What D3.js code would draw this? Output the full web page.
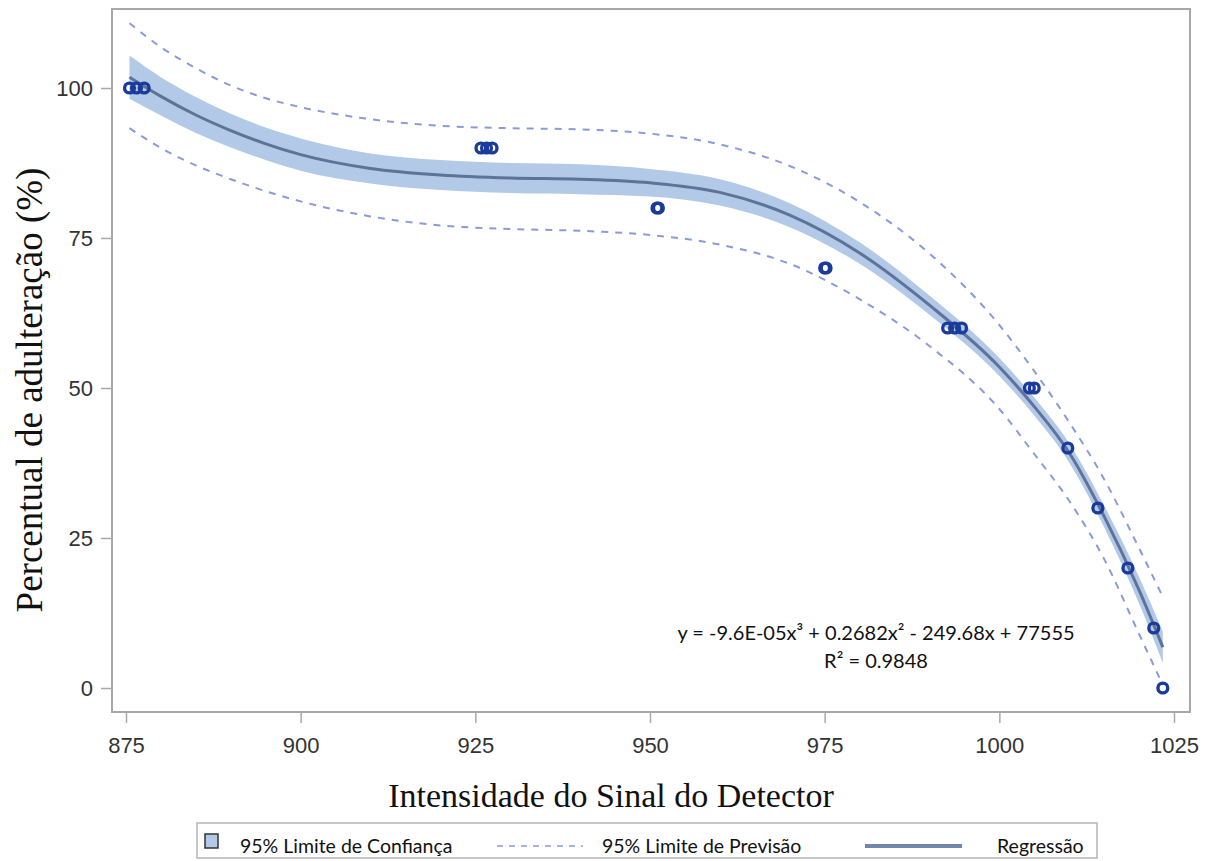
<!DOCTYPE html>
<html>
<head>
<meta charset="utf-8">
<script src="https://cdn.jsdelivr.net/npm/d3@7"></script>
<style>
  body { margin: 0; background: #fff; }
  svg { display: block; }
</style>
</head>
<body>
<svg id="chart" width="1210" height="861"></svg>
<script>
// tick values
var xTicks = [875, 900, 925, 950, 975, 1000, 1025];
var yTicks = [0, 25, 50, 75, 100];

var obsX = [875.5, 876.5, 877.6, 925.8, 926.6, 927.4, 951, 951.2, 975, 975.2, 992.6, 993.6, 994.6, 1004.3, 1005, 1009.8, 1014.1, 1018.4, 1022.1, 1023.4];
var obsY = [100, 100, 100, 90, 90, 90, 80, 80, 70, 70, 60, 60, 60, 50, 50, 40, 30, 20, 10, 0];

// curve grid and the curves read at it
var curveX  = [875.5, 880, 885, 890, 895, 900, 910, 920, 930, 940, 950, 960, 970, 980, 990, 1000, 1005, 1010, 1015, 1020, 1023.4];
var fitY    = [101.8, 98.6, 95.5, 92.9, 90.7, 88.9, 86.6, 85.5, 85.0, 84.8, 84.2, 82.6, 78.8, 72.5, 63.8, 53.5, 46.9, 39.2, 28.6, 16.3, 6.8];
var clLow   = [98.2, 95.4, 92.5, 90.1, 88.0, 86.2, 84.1, 83.0, 82.5, 82.3, 81.9, 80.4, 76.8, 70.7, 62.2, 52.0, 45.4, 37.6, 26.8, 14.1, 4.2];
var clHigh  = [105.4, 101.8, 98.5, 95.7, 93.4, 91.6, 89.1, 88.0, 87.5, 87.3, 86.5, 84.8, 80.8, 74.3, 65.4, 55.0, 48.4, 40.8, 30.4, 18.5, 9.4];
var piLow   = [93.3, 90.0, 87.1, 84.8, 82.8, 81.1, 78.6, 77.1, 76.5, 76.2, 75.5, 73.9, 70.7, 64.8, 57.0, 46.5, 39.0, 31.2, 21.5, 9.0, 0.5];
var piHigh  = [110.8, 106.8, 103.3, 100.4, 98.3, 96.8, 94.8, 93.7, 93.3, 93.1, 92.4, 90.6, 87.0, 81.0, 72.4, 60.5, 52.8, 44.3, 34.8, 23.3, 15.2];

var legendLabels = ["95% Limite de Confiança", "95% Limite de Previsão", "Regressão"];
var eqLines = ["y = -9.6E-05x³ + 0.2682x² - 249.68x + 77555", "R² = 0.9848"];

var frame = {left: 112, top: 9, right: 1190, bottom: 712};

var svg = d3.select("#chart");

var x = d3.scaleLinear().domain([875, 1025]).range([126, 1174]);
var y = d3.scaleLinear().domain([0, 100]).range([688, 88]);

var curveData = curveX.map(function(v, i) {
  return {x: v, fit: fitY[i], lo: clLow[i], hi: clHigh[i], plo: piLow[i], phi: piHigh[i]};
});

svg.append("clipPath").attr("id", "plotclip")
  .append("rect")
  .attr("x", frame.left).attr("y", frame.top)
  .attr("width", frame.right - frame.left).attr("height", frame.bottom - frame.top);

var plot = svg.append("g").attr("clip-path", "url(#plotclip)");

// confidence band
plot.append("path")
  .datum(curveData)
  .attr("fill", "#b3c9e8")
  .attr("d", d3.area()
    .curve(d3.curveMonotoneX)
    .x(function(d) { return x(d.x); })
    .y0(function(d) { return y(d.lo); })
    .y1(function(d) { return y(d.hi); }));

// prediction limits
["plo", "phi"].forEach(function(k) {
  plot.append("path")
    .datum(curveData)
    .attr("fill", "none")
    .attr("stroke", "#8a9bd8")
    .attr("stroke-width", 2)
    .attr("stroke-dasharray", "7,7")
    .attr("d", d3.line()
      .curve(d3.curveMonotoneX)
      .x(function(d) { return x(d.x); })
      .y(function(d) { return y(d[k]); }));
});

// regression line
plot.append("path")
  .datum(curveData)
  .attr("fill", "none")
  .attr("stroke", "#5f7399")
  .attr("stroke-width", 3)
  .attr("d", d3.line()
    .curve(d3.curveMonotoneX)
    .x(function(d) { return x(d.x); })
    .y(function(d) { return y(d.fit); }));

// observations
plot.selectAll("circle.obs")
  .data(obsX.map(function(v, i) { return {x: v, y: obsY[i]}; }))
  .enter().append("circle")
  .attr("class", "obs")
  .attr("cx", function(d) { return x(d.x); })
  .attr("cy", function(d) { return y(d.y); })
  .attr("r", 4.9)
  .attr("fill", "none")
  .attr("stroke", "#1a3a9c")
  .attr("stroke-width", 3.4);

// frame
svg.append("rect")
  .attr("x", frame.left).attr("y", frame.top)
  .attr("width", frame.right - frame.left).attr("height", frame.bottom - frame.top)
  .attr("fill", "none")
  .attr("stroke", "#a8a8a8")
  .attr("stroke-width", 2);

// axes
var xAxis = svg.append("g")
  .attr("transform", "translate(0," + frame.bottom + ")")
  .call(d3.axisBottom(x).tickValues(xTicks).tickSize(11).tickPadding(14).tickFormat(d3.format("d")));
var yAxis = svg.append("g")
  .attr("transform", "translate(" + frame.left + ",0)")
  .call(d3.axisLeft(y).tickValues(yTicks).tickSize(11).tickPadding(8).tickFormat(d3.format("d")));

[xAxis, yAxis].forEach(function(a) {
  a.select(".domain").remove();
  a.selectAll(".tick line").attr("stroke", "#a8a8a8").attr("stroke-width", 1.5);
  a.selectAll(".tick text")
    .attr("fill", "#333")
    .style("font-family", "'Liberation Sans', Arial, sans-serif")
    .style("font-size", "22px");
});
yAxis.selectAll(".tick text").attr("dy", "0.36em");

// axis titles
svg.append("text")
  .attr("x", 611).attr("y", 807)
  .attr("text-anchor", "middle")
  .style("font-family", "'Liberation Serif', 'Times New Roman', serif")
  .style("font-size", "34px")
  .attr("fill", "#111")
  .text("Intensidade do Sinal do Detector");

svg.append("text")
  .attr("transform", "translate(42,390) rotate(-90)")
  .attr("text-anchor", "middle")
  .style("font-family", "'Liberation Serif', 'Times New Roman', serif")
  .style("font-size", "37px")
  .attr("fill", "#111")
  .text("Percentual de adulteração (%)");

// equation
svg.selectAll("text.eq")
  .data(eqLines)
  .enter().append("text")
  .attr("class", "eq")
  .attr("x", 876)
  .attr("y", function(d, i) { return 640 + i * 28; })
  .attr("text-anchor", "middle")
  .style("font-family", "Lato, 'Open Sans', sans-serif")
  .style("font-size", "20px")
  .attr("fill", "#111")
  .text(function(d) { return d; });

// legend
var lg = svg.append("g");
lg.append("rect")
  .attr("x", 197).attr("y", 823).attr("width", 900).attr("height", 35)
  .attr("fill", "#fff").attr("stroke", "#b5b5b5").attr("stroke-width", 1.5);

lg.append("rect")
  .attr("x", 205).attr("y", 834).attr("width", 13).attr("height", 14)
  .attr("fill", "#b3c9e8").attr("stroke", "#333").attr("stroke-width", 1.5);
lg.append("line")
  .attr("x1", 497).attr("x2", 583).attr("y1", 846).attr("y2", 846)
  .attr("stroke", "#8a9bd8").attr("stroke-width", 1.5).attr("stroke-dasharray", "6,6");
lg.append("line")
  .attr("x1", 865).attr("x2", 962).attr("y1", 846).attr("y2", 846)
  .attr("stroke", "#7186ad").attr("stroke-width", 4);

var legendX = [240, 602, 997];
lg.selectAll("text.lgl")
  .data(legendLabels)
  .enter().append("text")
  .attr("class", "lgl")
  .attr("x", function(d, i) { return legendX[i]; })
  .attr("y", 853)
  .style("font-family", "Lato, 'Open Sans', sans-serif")
  .style("font-size", "19.5px")
  .attr("fill", "#111")
  .text(function(d) { return d; });
</script>
</body>
</html>
